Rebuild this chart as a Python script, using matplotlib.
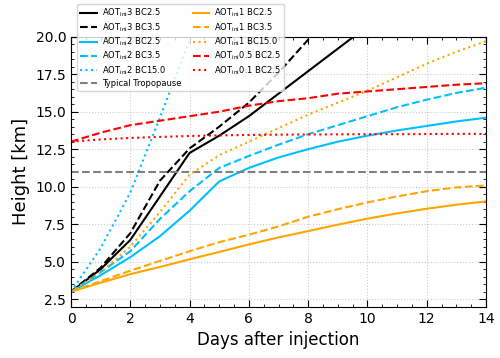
import matplotlib
matplotlib.use("Agg")
import matplotlib.pyplot as plt
from matplotlib.ticker import MultipleLocator, AutoMinorLocator

days = list(range(0, 15))

aot3_bc25 = [3.0, 4.5, 6.45, 9.35, 12.25, 13.4, 14.7, 16.2, 17.7, 19.2, 20.7, 22.2, 23.7, 25.2, 26.7]
aot3_bc35 = [3.0, 4.6, 6.9, 10.4, 12.55, 14.0, 15.6, 17.6, 19.8, 22.0, 24.2, 26.4, 28.6, 30.8, 33.0]
aot2_bc25 = [3.0, 4.1, 5.3, 6.7, 8.4, 10.35, 11.25, 11.95, 12.5, 13.0, 13.4, 13.75, 14.05, 14.35, 14.6]
aot2_bc35 = [3.0, 4.3, 5.7, 7.85, 9.7, 11.25, 12.05, 12.8, 13.5, 14.1, 14.7, 15.3, 15.8, 16.25, 16.6]
aot2_bc150 = [3.0, 5.9, 9.6, 14.6, 19.8, 25.0, 30.0, 35.0, 40.0, 45.0, 50.0, 55.0, 60.0, 65.0, 70.0]
aot1_bc25 = [3.0, 3.6, 4.17, 4.65, 5.16, 5.65, 6.15, 6.62, 7.04, 7.47, 7.87, 8.22, 8.53, 8.8, 9.02]
aot1_bc35 = [3.0, 3.7, 4.4, 5.05, 5.7, 6.3, 6.8, 7.35, 8.0, 8.5, 8.95, 9.35, 9.7, 9.95, 10.08]
aot1_bc150 = [3.0, 4.3, 6.0, 8.3, 10.8, 12.1, 13.0, 13.9, 14.8, 15.6, 16.4, 17.3, 18.2, 19.0, 19.7]
aot05_bc25 = [13.0, 13.6, 14.1, 14.4, 14.7, 15.0, 15.4, 15.7, 15.9, 16.2, 16.35, 16.5, 16.65, 16.8, 16.9]
aot01_bc25 = [13.0, 13.15, 13.25, 13.32, 13.38, 13.42, 13.45, 13.47, 13.48, 13.49, 13.5, 13.5, 13.51, 13.52, 13.52]
tropopause = 11.0

fig = plt.figure(figsize=(5.0, 3.58), dpi=100)
ax = fig.add_axes([0.142, 0.1433, 0.830, 0.7542])

lw = 1.5
cyan = '#00BFFF'
orange = '#FFA500'
ax.plot(days, aot3_bc25, color='black', ls='-', lw=lw, label=r'AOT$_{\mathrm{ini}}$3 BC2.5')
ax.plot(days, aot3_bc35, color='black', ls='--', lw=lw, label=r'AOT$_{\mathrm{ini}}$3 BC3.5')
ax.plot(days, aot2_bc25, color=cyan, ls='-', lw=lw, label=r'AOT$_{\mathrm{ini}}$2 BC2.5')
ax.plot(days, aot2_bc35, color=cyan, ls='--', lw=lw, label=r'AOT$_{\mathrm{ini}}$2 BC3.5')
ax.plot(days, aot2_bc150, color=cyan, ls=':', lw=lw, label=r'AOT$_{\mathrm{ini}}$2 BC15.0')
ax.axhline(tropopause, color='gray', ls='--', lw=lw, label='Typical Tropopause')
ax.plot(days, aot1_bc25, color=orange, ls='-', lw=lw, label=r'AOT$_{\mathrm{ini}}$1 BC2.5')
ax.plot(days, aot1_bc35, color=orange, ls='--', lw=lw, label=r'AOT$_{\mathrm{ini}}$1 BC3.5')
ax.plot(days, aot1_bc150, color=orange, ls=':', lw=lw, label=r'AOT$_{\mathrm{ini}}$1 BC15.0')
ax.plot(days, aot05_bc25, color='red', ls='--', lw=lw, label=r'AOT$_{\mathrm{ini}}$0.5 BC2.5')
ax.plot(days, aot01_bc25, color='red', ls=':', lw=lw, label=r'AOT$_{\mathrm{ini}}$0.1 BC2.5')

ax.set_xlim(0, 14)
ax.set_ylim(2.0, 20.0)
ax.xaxis.set_major_locator(MultipleLocator(2))
ax.yaxis.set_major_locator(MultipleLocator(2.5))
ax.xaxis.set_minor_locator(AutoMinorLocator())
ax.yaxis.set_minor_locator(AutoMinorLocator())
ax.yaxis.set_major_formatter(matplotlib.ticker.FormatStrFormatter('%.1f'))
ax.tick_params(which='both', direction='in', top=True, right=True, labelsize=10)
ax.tick_params(which='major', length=5)
ax.tick_params(which='minor', length=2.5)
ax.grid(True, which='major', ls=':', color='#cccccc', lw=0.8)
ax.set_xlabel('Days after injection', fontsize=12)
ax.set_ylabel('Height [km]', fontsize=13)

leg = ax.legend(ncol=2, fontsize=6, loc='upper left',
                bbox_to_anchor=(77/500, 1 - 4/358), bbox_transform=fig.transFigure,
                borderaxespad=0, framealpha=0.8, columnspacing=1.4,
                labelspacing=0.22, borderpad=0.35, handletextpad=0.6)

fig.savefig('out.png', dpi=100)
